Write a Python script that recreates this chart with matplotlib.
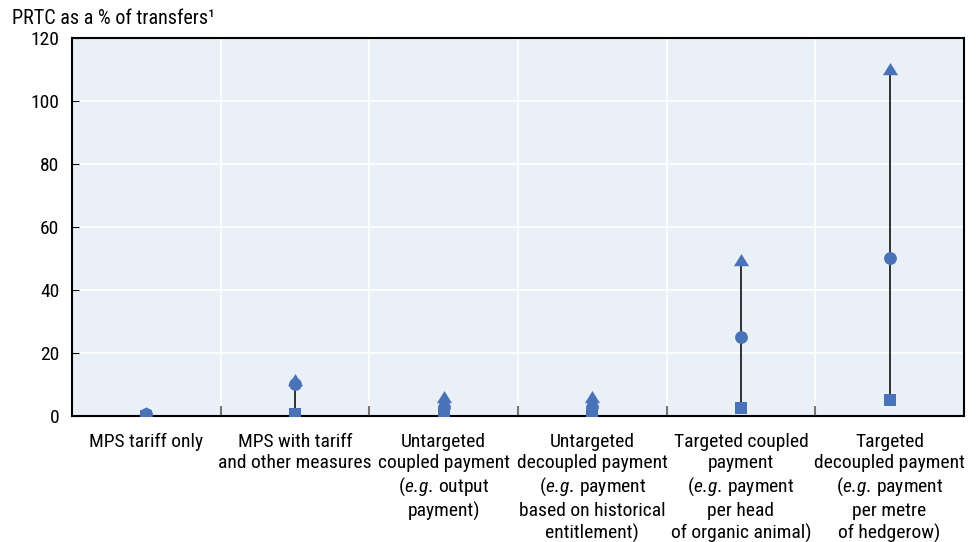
import matplotlib.pyplot as plt
from matplotlib import font_manager
import numpy as np

# pick a condensed family close to the reference (Arial Narrow style)
avail = {f.name for f in font_manager.fontManager.ttflist}
fam = next((c for c in ['Roboto Condensed', 'Liberation Sans Narrow', 'Arial Narrow',
                        'Archivo Narrow'] if c in avail), 'DejaVu Sans')
plt.rcParams['font.family'] = [fam, 'DejaVu Sans']
plt.rcParams['mathtext.fontset'] = 'custom'
plt.rcParams['mathtext.it'] = fam + ':italic'
plt.rcParams['mathtext.rm'] = fam

# Categories of support and PRTC range (% of transfers)
eg = '$\\it{e.\\!g.\\!}$'
categories = [
    'MPS tariff only',
    'MPS with tariff\nand other measures',
    'Untargeted\ncoupled payment\n(' + eg + ' output\npayment)',
    'Untargeted\ndecoupled payment\n(' + eg + ' payment\nbased on historical\nentitlement)',
    'Targeted coupled\npayment\n(' + eg + ' payment\nper head\nof organic animal)',
    'Targeted\ndecoupled payment\n(' + eg + ' payment\nper metre\nof hedgerow)',
]
low = [0, 0.5, 1, 1, 2.5, 5]
mid = [0.5, 10, 3, 3, 25, 50]
high = [0.8, 11.5, 6, 6, 49.5, 110]

blue = '#4a72b8'
tri = [(-1, -0.75), (1, -0.75), (0, 0.85)]

fig = plt.figure(figsize=(9.78, 5.42), dpi=100)
ax = fig.add_axes([0.0736, 0.2325, 0.912, 0.6975])
ax.set_facecolor('#eaf0f8')

x = np.arange(len(categories))
ax.vlines(x, low, high, color='#222222', lw=1.3, zorder=2)
ax.scatter(x, high, marker=tri, s=120, color=blue, zorder=3, linewidths=0)
ax.scatter(x, mid, marker='o', s=85, color=blue, zorder=4, linewidths=0)
ax.scatter(x, low, marker='s', s=72, color=blue, zorder=5, linewidths=0)

ax.set_xlim(-0.5, len(categories) - 0.5)
ax.set_ylim(0, 120)
ax.set_yticks(np.arange(0, 121, 20))
ax.set_xticks(x)
ax.set_xticklabels(categories, fontsize=14, linespacing=1.24)
ax.tick_params(axis='x', length=0, pad=12)
ax.tick_params(axis='y', direction='in', length=5, labelsize=14, pad=9)

# category boundaries
bounds = np.arange(0.5, len(categories) - 0.5, 1)
ax.set_xticks(bounds, minor=True)
ax.tick_params(axis='x', which='minor', direction='in', length=7, color='#777777', width=1.5)
ax.grid(True, which='minor', axis='x', color='white', lw=1.2)
ax.grid(True, which='major', axis='y', color='white', lw=1.2)
ax.set_axisbelow(True)
for s in ax.spines.values():
    s.set_linewidth(1.5)
    s.set_color('black')

fig.text(0.012, 0.965, 'PRTC as a % of transfers\u00b9', fontsize=14.5, va='center')

plt.savefig('out.png', dpi=100)
